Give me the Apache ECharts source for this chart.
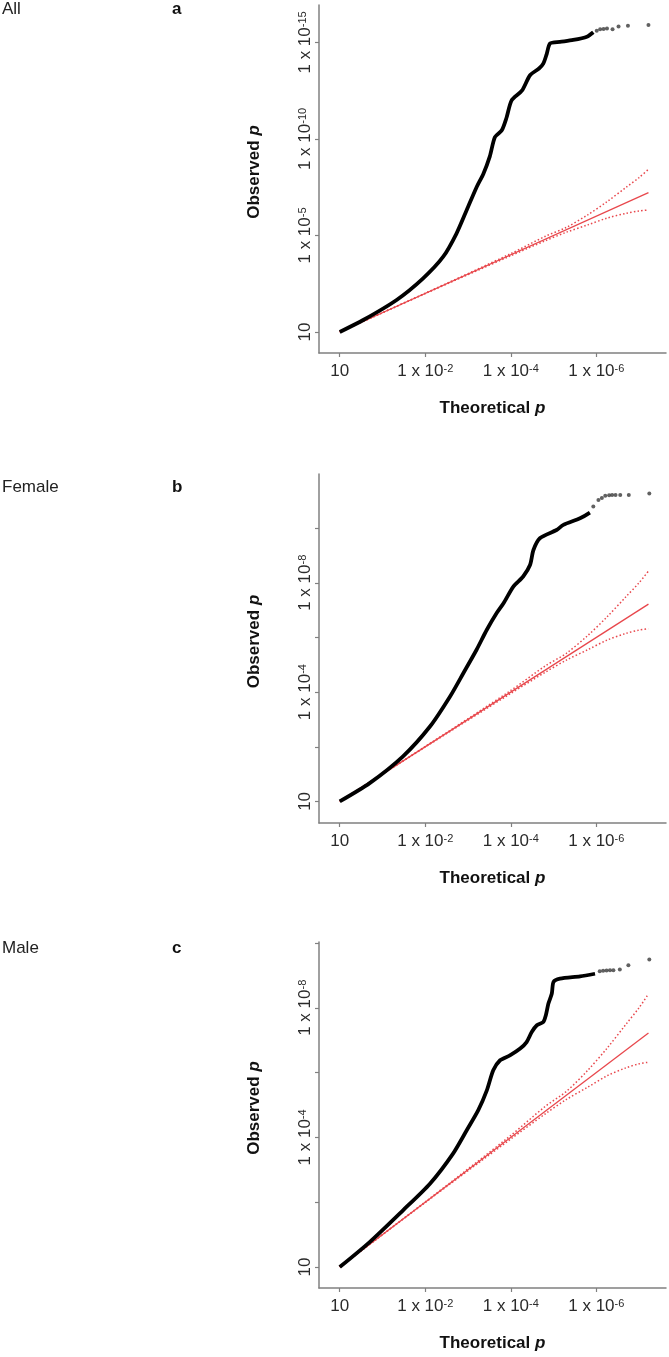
<!DOCTYPE html>
<html>
<head>
<meta charset="utf-8">
<script src="https://cdn.jsdelivr.net/npm/echarts@6/dist/echarts.min.js"></script>
<style>
html,body{margin:0;padding:0;background:#fff;}
#c{width:669px;height:1357px;}
</style>
</head>
<body>
<div id="c"></div>
<script>
// ---- Data: -log10(p) values ----
const panelNames = ['All', 'Female', 'Male'];
const panelLetters = ['a', 'b', 'c'];

// x tick positions (-log10 theoretical p) and y tick positions
const xTicks = [0, 2, 4, 6];
const yTicksA = [0, 5, 10, 15];
const yLabelsA = [0, 5, 10, 15];
const yTicksB = [0, 2, 4, 6, 8, 10];
const yLabelsB = [0, 4, 8];
const yTicksC = [0, 2, 4, 6, 8, 10];
const yLabelsC = [0, 4, 8];

// Panel a (All): dense part of the observed curve
const expA = [0, 0.55, 1.33, 1.95, 2.42, 2.73, 2.97, 3.20, 3.36, 3.51, 3.63, 3.79, 3.90, 4.02, 4.26, 4.45, 4.66, 4.76, 4.84, 4.92, 5.15, 5.46, 5.78, 5.93];
const obsA = [0, 0.62, 1.66, 2.78, 3.90, 5.10, 6.32, 7.50, 8.20, 9.10, 10.10, 10.45, 11.10, 12.00, 12.50, 13.30, 13.65, 13.90, 14.40, 14.95, 15.03, 15.13, 15.30, 15.53];
// Panel a: sparse top points
const tailExpA = [6.01, 6.09, 6.17, 6.25, 6.38, 6.52, 6.74, 7.22];
const tailObsA = [15.61, 15.68, 15.70, 15.72, 15.68, 15.82, 15.87, 15.91];

// Panel b (Female)
const expB = [0, 0.70, 1.48, 2.11, 2.58, 2.89, 3.20, 3.44, 3.67, 3.83, 4.06, 4.29, 4.45, 4.53, 4.68, 5.07, 5.23, 5.62, 5.85];
const obsB = [0, 0.67, 1.65, 2.74, 3.84, 4.69, 5.55, 6.28, 6.89, 7.25, 7.86, 8.23, 8.65, 9.20, 9.63, 9.93, 10.12, 10.36, 10.57];
const tailExpB = [5.93, 6.05, 6.13, 6.21, 6.30, 6.37, 6.45, 6.56, 6.76, 7.24];
const tailObsB = [10.79, 11.03, 11.10, 11.18, 11.20, 11.21, 11.21, 11.21, 11.21, 11.27];

// Panel c (Male)
const expC = [0, 0.70, 1.48, 2.11, 2.65, 2.97, 3.24, 3.44, 3.59, 3.75, 3.98, 4.22, 4.37, 4.49, 4.61, 4.76, 4.82, 4.88, 4.96, 5.00, 5.15, 5.62, 5.97];
const obsC = [0, 0.77, 1.75, 2.57, 3.50, 4.22, 4.84, 5.45, 6.07, 6.38, 6.53, 6.74, 6.94, 7.25, 7.46, 7.56, 7.77, 8.13, 8.44, 8.80, 8.90, 8.97, 9.05];
const tailExpC = [6.08, 6.16, 6.24, 6.32, 6.40, 6.55, 6.75, 7.24];
const tailObsC = [9.13, 9.14, 9.15, 9.16, 9.16, 9.18, 9.31, 9.49];

// Expected line and 95% confidence band
const expLine = [0, 7.22];
const ciX = [0, 2, 4, 4.8, 5.3, 5.8, 6.25, 6.7, 7.0, 7.22];
const ciUpper = [0, 2.01, 4.06, 4.95, 5.42, 6.07, 6.75, 7.50, 8.00, 8.43];
const ciLower = [0, 1.99, 3.95, 4.72, 5.17, 5.55, 5.90, 6.15, 6.27, 6.32];

// ---- Chart ----
const FONT = "'Liberation Sans', Arial, sans-serif";
const RED = '#e8474c';
const AXIS = '#808080';
const zip = (a, b) => a.map((v, i) => [v, b[i]]);

const grids = [
  {left: 319, top: 5, width: 347, height: 348},
  {left: 319, top: 474, width: 347, height: 349},
  {left: 319, top: 942, width: 347, height: 346}
];
const yRanges = [[-1.088, 16.94], [-0.79, 11.98], [-0.648, 10.03]];
const yTickSets = [yTicksA, yTicksB, yTicksC];
const yLabelSets = [yLabelsA, yLabelsB, yLabelsC];
const curves = [[expA, obsA, tailExpA, tailObsA], [expB, obsB, tailExpB, tailObsB], [expC, obsC, tailExpC, tailObsC]];

function powLabel(v) {
  if (Math.abs(v) < 1e-9) return '{n|10}';
  return '{n|1 x 10}{s|-' + Math.round(v) + '}';
}
const richLab = {
  n: {fontSize: 17, fontFamily: FONT, color: '#2a2a2a'},
  s: {fontSize: 11, fontFamily: FONT, color: '#2a2a2a', verticalAlign: 'top'}
};
const richName = {
  b: {fontSize: 17, fontWeight: 'bold', fontFamily: FONT, color: '#111'},
  i: {fontSize: 17, fontWeight: 'bold', fontStyle: 'italic', fontFamily: FONT, color: '#111'}
};

const xAxis = [], yAxis = [], series = [], graphic = [];
for (let k = 0; k < 3; k++) {
  xAxis.push({
    type: 'value', gridIndex: k, min: -0.485, max: 7.63,
    axisLine: {show: true, onZero: false, lineStyle: {color: AXIS, width: 1.5}},
    axisTick: {show: true, length: 4, lineStyle: {color: AXIS, width: 1.2}, customValues: xTicks},
    axisLabel: {margin: 10, customValues: xTicks, formatter: powLabel, rich: richLab},
    splitLine: {show: false},
    name: '{b|Theoretical }{i|p}', nameLocation: 'middle', nameGap: 47,
    nameTextStyle: {rich: richName}
  });
  yAxis.push({
    type: 'value', gridIndex: k, min: yRanges[k][0], max: yRanges[k][1],
    axisLine: {show: true, onZero: false, lineStyle: {color: AXIS, width: 1.5}},
    axisTick: {show: true, length: 4, lineStyle: {color: AXIS, width: 1.2}, customValues: yTickSets[k]},
    axisLabel: {margin: 5, rotate: 90, customValues: yLabelSets[k], formatter: powLabel, rich: richLab},
    splitLine: {show: false},
    name: '{b|Observed }{i|p}', nameLocation: 'middle', nameGap: 56, nameRotate: 90,
    nameTextStyle: {rich: richName, padding: [0, 0, 0, 14]}
  });
  const [ex, ob, tx, ty] = curves[k];
  series.push({
    type: 'line', xAxisIndex: k, yAxisIndex: k, data: zip(expLine, expLine),
    showSymbol: false, silent: true, lineStyle: {color: RED, width: 1.3}, z: 2
  });
  series.push({
    type: 'line', xAxisIndex: k, yAxisIndex: k, data: zip(ciX, ciUpper), smooth: 0.3,
    showSymbol: false, silent: true, lineStyle: {color: RED, width: 1.5, type: [1.5, 2.2]}, z: 2
  });
  series.push({
    type: 'line', xAxisIndex: k, yAxisIndex: k, data: zip(ciX, ciLower), smooth: 0.3,
    showSymbol: false, silent: true, lineStyle: {color: RED, width: 1.5, type: [1.5, 2.2]}, z: 2
  });
  series.push({
    type: 'line', xAxisIndex: k, yAxisIndex: k, data: zip(ex, ob), smooth: 0.25,
    showSymbol: false, silent: true, lineStyle: {color: '#000', width: 3.8}, z: 3
  });
  series.push({
    type: 'scatter', xAxisIndex: k, yAxisIndex: k, data: zip(tx, ty),
    symbolSize: 4, silent: true, itemStyle: {color: '#3a3a3a'}, z: 3
  });
}

const labelY = [10, 488, 949];
for (let k = 0; k < 3; k++) {
  graphic.push({type: 'text', left: 2, top: labelY[k] - 9,
    style: {text: panelNames[k], font: '17px ' + FONT, fill: '#222'}});
  graphic.push({type: 'text', left: 172, top: labelY[k] - 9,
    style: {text: panelLetters[k], font: 'bold 17px ' + FONT, fill: '#111'}});
}

const chart = echarts.init(document.getElementById('c'), null, {renderer: 'canvas'});
chart.setOption({
  animation: false,
  backgroundColor: '#fff',
  grid: grids,
  xAxis: xAxis,
  yAxis: yAxis,
  series: series,
  graphic: graphic
});
</script>
</body>
</html>
